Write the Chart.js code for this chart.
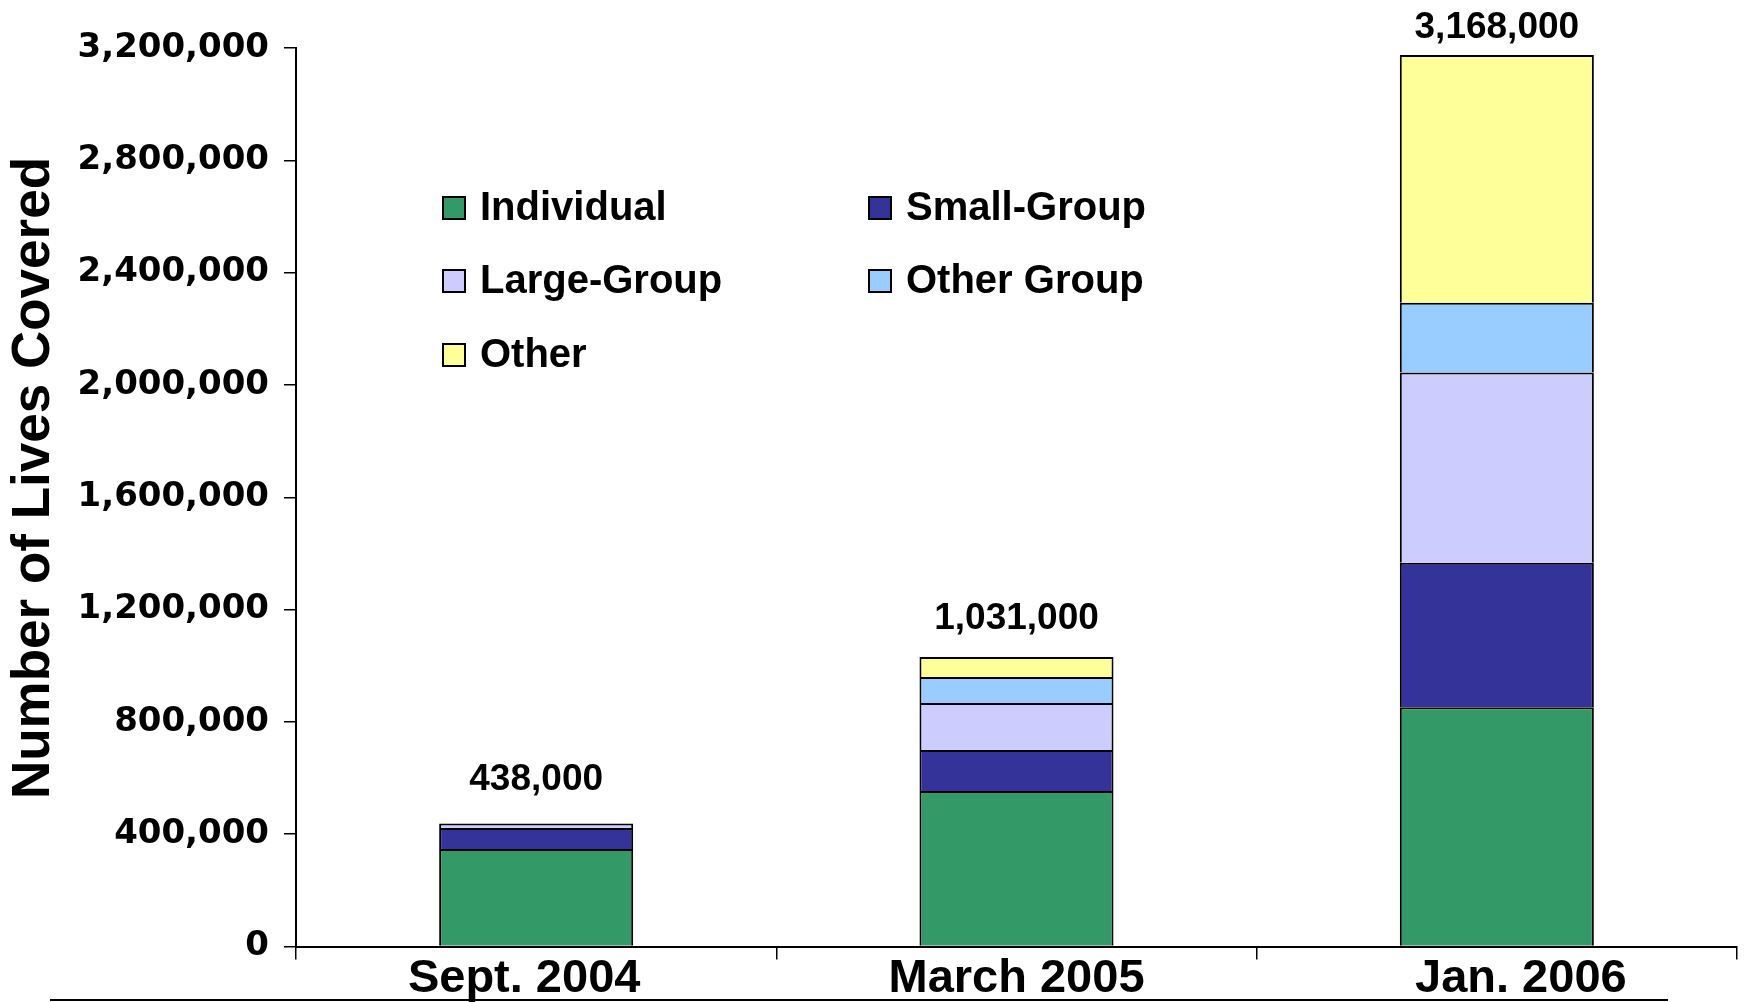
<!DOCTYPE html>
<html>
<head>
<meta charset="utf-8">
<script src="https://cdn.jsdelivr.net/npm/chart.js@4"></script>
<style>
  html, body { margin: 0; padding: 0; background: #fff; }
  #wrap { width: 1744px; height: 1002px; position: relative; }
</style>
</head>
<body>
<div id="wrap"><canvas id="graf" width="1744" height="1002"></canvas></div>
<script>
// Kategorier och värden
const categories = ['Sept. 2004', 'March 2005', 'Jan. 2006'];
const individual = [347000, 554000, 852000];
const smallGroup = [75000, 146000, 515000];
const largeGroup = [16000, 167000, 677000];
const otherGroup = [0, 93000, 249000];
const other = [0, 71000, 882000];
const totals = [438000, 1031000, 3168000];
const yTicks = [0, 400000, 800000, 1200000, 1600000, 2000000, 2400000, 2800000, 3200000];

const seriesNames = ['Individual', 'Small-Group', 'Large-Group', 'Other Group', 'Other'];
const seriesColors = ['#339966', '#333399', '#CCCCFF', '#99CCFF', '#FFFF99'];
const seriesData = [individual, smallGroup, largeGroup, otherGroup, other];

const datasets = seriesData.map((d, i) => ({
  label: seriesNames[i],
  data: d,
  backgroundColor: seriesColors[i],
  borderColor: '#000',
  borderWidth: 2,
  barPercentage: 0.404,
  categoryPercentage: 1
}));

// Egen plugin: legend, axeltitel, x-etiketter, summor och linjen längst ner
const extras = {
  id: 'extras',
  afterDraw(chart) {
    const ctx = chart.ctx;
    ctx.save();
    // legend i två kolumner
    const cols = [443, 869];
    const rows = [208, 281, 355];
    ctx.font = 'bold 40px "Liberation Sans", Arial, sans-serif';
    ctx.textBaseline = 'middle';
    ctx.textAlign = 'left';
    chart.data.datasets.forEach((ds, i) => {
      const x = cols[i % 2];
      const y = rows[Math.floor(i / 2)];
      ctx.fillStyle = ds.backgroundColor;
      ctx.fillRect(x, y - 11, 22, 22);
      ctx.lineWidth = 2;
      ctx.strokeStyle = '#000';
      ctx.strokeRect(x, y - 11, 22, 22);
      ctx.fillStyle = '#000';
      ctx.fillText(ds.label, x + 37, y + 1);
    });
    // y-axelns titel
    ctx.save();
    ctx.translate(34, 478);
    ctx.rotate(-Math.PI / 2);
    ctx.textAlign = 'center';
    ctx.font = 'bold 53px "Liberation Sans", Arial, sans-serif';
    ctx.fillText('Number of Lives Covered', 0, 0);
    ctx.restore();
    // x-etiketter (lite förskjutna som i originalet)
    const xShift = [-12, 0, 24];
    ctx.font = 'bold 47px "Liberation Sans", Arial, sans-serif';
    ctx.textAlign = 'center';
    ctx.textBaseline = 'alphabetic';
    categories.forEach((c, j) => {
      ctx.fillText(c, chart.scales.x.getPixelForValue(j) + xShift[j], 992);
    });
    // summor ovanför staplarna
    const last = chart.getDatasetMeta(chart.data.datasets.length - 1);
    const gaps = [44, 38, 27];
    ctx.font = 'bold 37px "Liberation Sans", Arial, sans-serif';
    ctx.textBaseline = 'middle';
    categories.forEach((c, j) => {
      const el = last.data[j];
      ctx.fillText(totals[j].toLocaleString('en-US'), el.x, el.y - gaps[j]);
    });
    // linjen längst ner
    ctx.strokeStyle = '#000';
    ctx.lineWidth = 2;
    ctx.beginPath();
    ctx.moveTo(50, 1000);
    ctx.lineTo(1668, 1000);
    ctx.stroke();
    ctx.restore();
  }
};

new Chart(document.querySelector('#graf'), {
  type: 'bar',
  data: { labels: categories, datasets },
  plugins: [extras],
  options: {
    responsive: false,
    animation: false,
    layout: { padding: { top: 48, right: 7, bottom: 0, left: 0 } },
    plugins: { legend: { display: false }, tooltip: { enabled: false } },
    scales: {
      x: {
        stacked: true,
        afterFit: s => { s.height = 55.5; },
        grid: { offset: true, drawOnChartArea: false, tickLength: 13, color: '#000', lineWidth: 1.5 },
        border: { color: '#000', width: 2 },
        ticks: { display: false }
      },
      y: {
        stacked: true,
        min: 0,
        max: 3200000,
        afterFit: s => { s.width = 296; },
        afterBuildTicks: s => { s.ticks = yTicks.map(v => ({ value: v })); },
        grid: { drawOnChartArea: false, tickLength: 12, color: '#000', lineWidth: 1.5 },
        border: { color: '#000', width: 2 },
        ticks: {
          color: '#000',
          padding: 15,
          font: { family: '"DejaVu Sans", Verdana, sans-serif', size: 34, weight: 'bold' },
          callback: v => v.toLocaleString('en-US')
        }
      }
    }
  }
});
</script>
</body>
</html>
